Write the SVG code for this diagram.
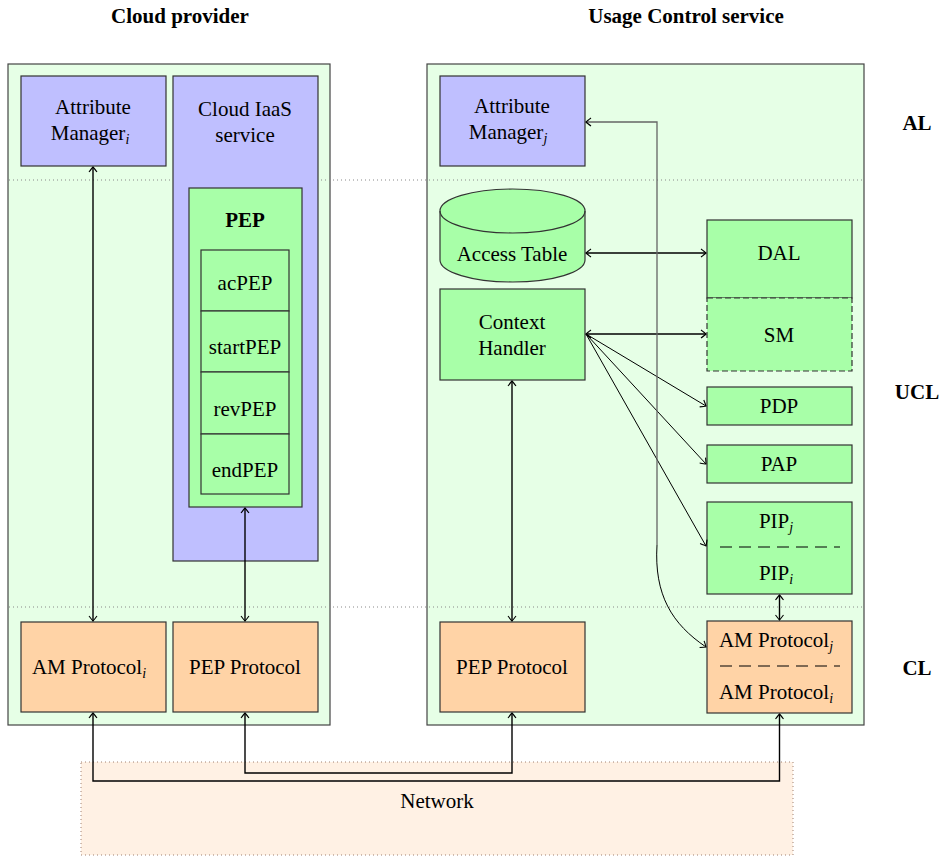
<svg xmlns="http://www.w3.org/2000/svg" width="942" height="856" viewBox="0 0 942 856" font-family="'Liberation Serif', 'DejaVu Serif', serif">
<defs>
<style>
text{font-family:'Liberation Serif','DejaVu Serif',serif;font-size:21px;fill:#000;text-anchor:middle}
.b{font-weight:bold}
.sub{font-style:italic;font-size:14px}
.cont{fill:#e6ffe6;stroke:#444;stroke-width:1.2}
.blue{fill:#bfbfff;stroke:#333;stroke-width:1.2}
.green{fill:#a8ffa8;stroke:#333;stroke-width:1.2}
.orange{fill:#ffd3a6;stroke:#333;stroke-width:1.2}
.dotline{stroke:#888;stroke-width:1;stroke-dasharray:1 3;fill:none}
.dash{stroke:#000;stroke-width:1.2;stroke-dasharray:12 7;fill:none}
.c{fill:none;stroke:#000;stroke-width:1.4}
.thin{fill:none;stroke:#000;stroke-width:1}
.gray{fill:none;stroke:#666;stroke-width:1.3}
</style>
<marker id="ah" viewBox="-6 -5 8 10" markerWidth="8" markerHeight="10" refX="0" refY="0" orient="auto-start-reverse" markerUnits="userSpaceOnUse">
<path d="M-5,-4 Q-1,-1 0,0 Q-1,1 -5,4" fill="none" stroke="#000" stroke-width="1.1"/>
</marker>
</defs>

<g id="headings">
<text class="b" x="180" y="23">Cloud provider</text>
<text class="b" x="686" y="23">Usage Control service</text>
<text class="b" x="917" y="130">AL</text>
<text class="b" x="917" y="399">UCL</text>
<text class="b" x="917" y="675">CL</text>
</g>

<g id="cloud-provider"><rect class="cont" x="8" y="64" width="322" height="661"/></g>
<g id="ucs"><rect class="cont" x="427" y="64" width="437" height="661"/></g>
<g id="network"><rect x="81" y="762" width="712" height="93" fill="#fff1e4" stroke="#a08070" stroke-width="1" stroke-dasharray="1 3"/>
<text x="437" y="808">Network</text></g>

<g id="layers">
<line class="dotline" x1="9" y1="180" x2="863" y2="180"/>
<line class="dotline" x1="9" y1="607" x2="863" y2="607"/>
</g>

<g id="am-i"><rect class="blue" x="21" y="76" width="145" height="90"/>
<text x="93" y="114">Attribute</text>
<text x="90" y="140">Manager<tspan class="sub" dy="4">i</tspan></text></g>

<g id="iaas"><rect class="blue" x="173" y="76" width="145" height="485"/>
<text x="245" y="116">Cloud IaaS</text>
<text x="245" y="142">service</text></g>

<g id="pep"><rect class="green" x="189" y="188" width="113" height="319"/>
<text class="b" x="245" y="227">PEP</text></g>
<g id="acpep"><rect class="green" x="201" y="250" width="88" height="61"/><text x="245" y="290">acPEP</text></g>
<g id="startpep"><rect class="green" x="201" y="311" width="88" height="61"/><text x="245" y="354">startPEP</text></g>
<g id="revpep"><rect class="green" x="201" y="372" width="88" height="62"/><text x="245" y="416">revPEP</text></g>
<g id="endpep"><rect class="green" x="201" y="434" width="88" height="60"/><text x="245" y="477">endPEP</text></g>

<g id="amprot-i"><rect class="orange" x="21" y="622" width="145" height="90"/>
<text x="89" y="674">AM Protocol<tspan class="sub" dy="4">i</tspan></text></g>
<g id="pepprot-l"><rect class="orange" x="173" y="622" width="145" height="90"/>
<text x="245" y="674">PEP Protocol</text></g>

<g id="am-j"><rect class="blue" x="440" y="76" width="145" height="90"/>
<text x="512" y="113">Attribute</text>
<text x="508" y="139">Manager<tspan class="sub" dy="4">j</tspan></text></g>

<g id="access-table">
<path class="green" d="M440,211 L440,260 A72.5,22 0 0 0 585,260 L585,211 A72.5,22 0 0 0 440,211 Z"/>
<path d="M440,211 A72.5,22 0 0 0 585,211" fill="none" stroke="#333" stroke-width="1.2"/>
<text x="512" y="261">Access Table</text></g>

<g id="context-handler"><rect class="green" x="440" y="289" width="145" height="91"/>
<text x="512" y="329">Context</text>
<text x="512" y="355">Handler</text></g>

<g id="dal"><rect class="green" x="707" y="220" width="145" height="78"/>
<text x="779" y="260">DAL</text></g>
<g id="sm"><rect class="green" x="707" y="298" width="145" height="73" stroke-dasharray="6 3"/>
<text x="779" y="342">SM</text></g>

<g id="pdp"><rect class="green" x="707" y="387" width="145" height="38"/><text x="779" y="413">PDP</text></g>
<g id="pap"><rect class="green" x="707" y="445" width="145" height="38"/><text x="779" y="471">PAP</text></g>
<g id="pip"><rect class="green" x="707" y="502" width="145" height="92"/>
<text x="776" y="528">PIP<tspan class="sub" dy="4">j</tspan></text>
<line class="dash" x1="720" y1="547" x2="840" y2="547"/>
<text x="776" y="580">PIP<tspan class="sub" dy="4">i</tspan></text></g>

<g id="amprot-ji"><rect class="orange" x="707" y="621" width="145" height="92"/>
<text x="776" y="647">AM Protocol<tspan class="sub" dy="4">j</tspan></text>
<line class="dash" x1="720" y1="666" x2="840" y2="666"/>
<text x="776" y="699">AM Protocol<tspan class="sub" dy="4">i</tspan></text></g>

<g id="pepprot-r"><rect class="orange" x="440" y="622" width="145" height="90"/>
<text x="512" y="674">PEP Protocol</text></g>

<g id="connectors">
<line class="c" x1="93" y1="167" x2="93" y2="621" marker-start="url(#ah)" marker-end="url(#ah)"/>
<line class="c" x1="245" y1="508" x2="245" y2="621" marker-start="url(#ah)" marker-end="url(#ah)"/>
<line class="c" x1="512" y1="381" x2="512" y2="621" marker-start="url(#ah)" marker-end="url(#ah)"/>
<line class="c" x1="586" y1="253" x2="706" y2="253" marker-start="url(#ah)" marker-end="url(#ah)"/>
<line class="c" x1="586" y1="334" x2="706" y2="334" marker-start="url(#ah)" marker-end="url(#ah)"/>
<line class="thin" x1="586" y1="334" x2="706" y2="406" marker-end="url(#ah)"/>
<line class="thin" x1="586" y1="334" x2="706" y2="464" marker-end="url(#ah)"/>
<line class="thin" x1="586" y1="334" x2="706" y2="546" marker-end="url(#ah)"/>
<line class="c" x1="779.5" y1="595" x2="779.5" y2="620" marker-start="url(#ah)" marker-end="url(#ah)"/>
<path class="gray" d="M657,545 L657,122 L586,122" marker-end="url(#ah)"/>
<path class="thin" d="M657,545 C654,595 672,624 706,647" marker-end="url(#ah)"/>
<path class="c" d="M93,713 L93,781 L779.5,781 L779.5,714" marker-start="url(#ah)" marker-end="url(#ah)"/>
<path class="c" d="M245,713 L245,773 L512,773 L512,713" marker-start="url(#ah)" marker-end="url(#ah)"/>
</g>
</svg>
